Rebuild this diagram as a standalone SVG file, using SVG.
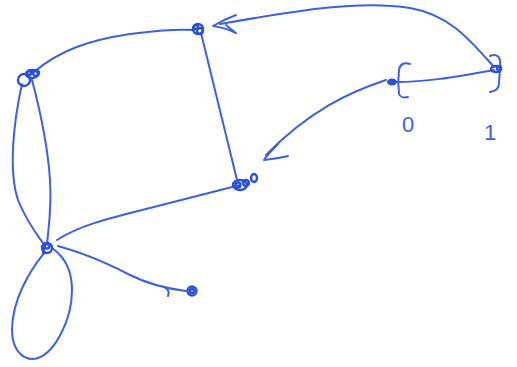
<svg xmlns="http://www.w3.org/2000/svg" width="517" height="367" viewBox="0 0 517 367">
<style>
.s{fill:none;stroke:#3d62d8;stroke-width:2;stroke-linecap:round;stroke-linejoin:round}
.n{fill:none;stroke:#2a50d4;stroke-width:2.4}
.t{font-family:"Liberation Sans",Arial,sans-serif;fill:#3d62d8;font-size:22px}
</style>
<rect width="517" height="367" fill="#fff"/>
<g id="connectors">
<path class="s" d="M34,72 C60,50 90,40 130,34 C160,30 180,29 194,30"/>
<path class="s" d="M201,33 C210,70 222,120 237,180"/>
<path class="s" d="M22,84 C14,120 8,170 18,200 C28,225 40,238 45,246"/>
<path class="s" d="M32,80 C40,110 48,150 50,180 C52,210 48,230 47,245"/>
<path class="s" d="M57,240 C80,225 110,218 150,208 C190,198 220,190 240,185"/>
<path class="s" d="M45,252 C30,270 12,300 12,330 C12,352 25,362 38,358 C55,352 72,320 72,290 C72,268 62,255 52,248"/>
<path class="s" d="M58,246 C80,252 105,262 130,275 C150,285 170,289 186,291"/>
<path class="s" d="M164,287 C168,289 170,292 168,296"/>
<path class="s" d="M494,67 C470,40 450,15 410,8 C360,0 300,10 220,24"/>
<path class="s" d="M236,15 C228,18 220,22 213,26 C220,27 230,30 236,33 C232,30 228,27 226,25"/>
<path class="s" d="M386,80 C350,92 310,110 266,155"/>
<path class="s" d="M278,144 C272,150 267,155 264,160 C272,159 280,158 288,156"/>
<path class="s" d="M396,82 C430,82 460,76 494,70"/>
<path class="s" d="M410,64 C404,62 400,64 399,70 C398,78 398,86 399,94 C400,97 404,98 408,97"/>
<path class="s" d="M490,56 C494,54 499,55 500,60 C501,68 499,76 499,84 C499,89 495,91 490,92"/>
</g>
<g id="A"><circle class="n" cx="24" cy="80" r="6"/><ellipse class="n" cx="32" cy="74" rx="6" ry="4"/><ellipse class="n" cx="36" cy="73" rx="3" ry="3"/><circle class="n" cx="29" cy="73" r="2"/></g>
<g id="B"><circle class="n" cx="198" cy="29" r="5"/><circle class="n" cx="200" cy="31" r="3"/><circle class="n" cx="196" cy="27" r="2"/></g>
<g id="C"><ellipse class="n" cx="240" cy="185" rx="7" ry="5"/><circle class="n" cx="246" cy="183" r="3"/><ellipse class="n" cx="254" cy="178" rx="3" ry="4"/><circle class="n" cx="238" cy="185" r="2.5"/></g>
<g id="D"><circle class="n" cx="47" cy="248" r="5"/><circle class="n" cx="47" cy="246" r="2.5"/><path class="n" d="M43,254 L45,242"/></g>
<g id="E"><circle class="n" cx="192" cy="291" r="4.5"/><circle class="n" cx="192" cy="291" r="2"/></g>
<g id="L"><ellipse cx="392" cy="82" rx="5" ry="3.5" fill="#2a50d4"/></g>
<g id="R"><ellipse class="n" cx="496" cy="69" rx="5" ry="3"/><circle class="n" cx="499" cy="68" r="2"/></g>
<g id="labels"><text class="t" x="402" y="132">0</text><text class="t" x="484" y="140">1</text></g>
</svg>
